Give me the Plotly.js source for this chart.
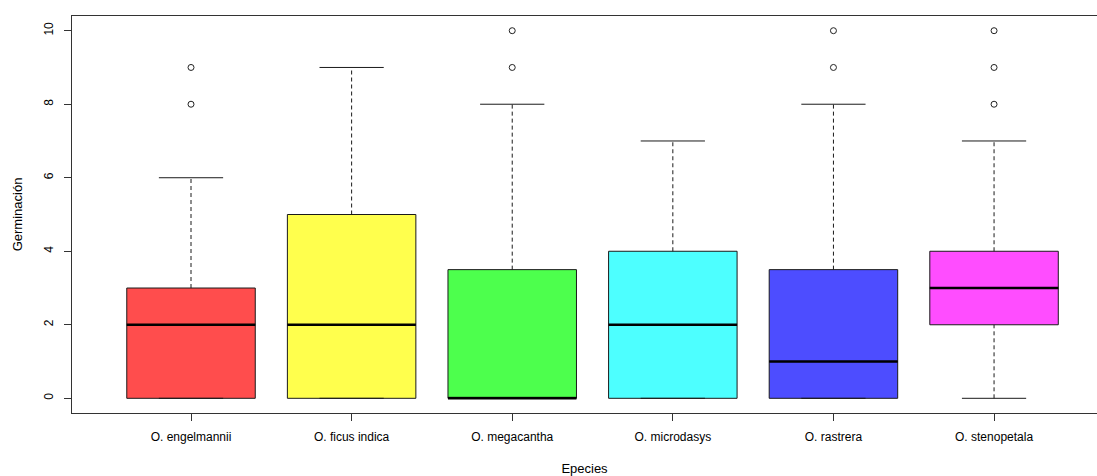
<!DOCTYPE html>
<html>
<head>
<meta charset="utf-8">
<script src="https://cdn.plot.ly/plotly-3.0.1.min.js"></script>
<style>html,body{margin:0;padding:0;background:#fff;}#chart{width:1097px;height:476px;}</style>
</head>
<body>
<div id="chart"></div>
<script>
// Data
const species = ["O. engelmannii", "O. ficus indica", "O. megacantha", "O. microdasys", "O. rastrera", "O. stenopetala"];
const positions = [1, 2, 3, 4, 5, 6];
const q1 = [0, 0, 0, 0, 0, 2];
const medians = [2, 2, 0, 2, 1, 3];
const q3 = [3, 5, 3.5, 4, 3.5, 4];
const lowerWhisker = [0, 0, 0, 0, 0, 0];
const upperWhisker = [6, 9, 8, 7, 8, 7];
const outliers = [[8, 9], [], [9, 10], [], [9, 10], [8, 9, 10]];
const fillColors = ["#FF4D4D", "#FFFF4D", "#4DFF4D", "#4DFFFF", "#4D4DFF", "#FF4DFF"];
const yTicks = [0, 2, 4, 6, 8, 10];

const BOX_HALF = 0.4, CAP_HALF = 0.2;
const font = {family: "Liberation Sans, Arial, sans-serif", size: 12, color: "#000"};

const traces = [];
// Boxes
positions.forEach((p, i) => {
  traces.push({
    type: "box", x: [p], q1: [q1[i]], median: [medians[i]], q3: [q3[i]],
    lowerfence: [q1[i]], upperfence: [q3[i]],
    width: 2 * BOX_HALF, whiskerwidth: 0,
    fillcolor: fillColors[i], line: {color: "#1a1a1a", width: 1},
    boxpoints: false, showlegend: false, hoverinfo: "skip"
  });
});
// Dashed whiskers
const wx = [], wy = [];
positions.forEach((p, i) => {
  if (upperWhisker[i] > q3[i]) { wx.push(p, p, null); wy.push(q3[i], upperWhisker[i], null); }
  if (lowerWhisker[i] < q1[i]) { wx.push(p, p, null); wy.push(lowerWhisker[i], q1[i], null); }
});
traces.push({type: "scatter", mode: "lines", x: wx, y: wy, line: {color: "#1a1a1a", width: 1, dash: "4px,3px"}, showlegend: false, hoverinfo: "skip"});
// Caps
const cx = [], cy = [];
positions.forEach((p, i) => {
  cx.push(p - CAP_HALF, p + CAP_HALF, null); cy.push(upperWhisker[i], upperWhisker[i], null);
  cx.push(p - CAP_HALF, p + CAP_HALF, null); cy.push(lowerWhisker[i], lowerWhisker[i], null);
});
traces.push({type: "scatter", mode: "lines", x: cx, y: cy, line: {color: "#1a1a1a", width: 1}, showlegend: false, hoverinfo: "skip"});
// Medians (thick)
const mx = [], my = [];
positions.forEach((p, i) => { mx.push(p - BOX_HALF, p + BOX_HALF, null); my.push(medians[i], medians[i], null); });
traces.push({type: "scatter", mode: "lines", x: mx, y: my, line: {color: "#000", width: 2.5}, showlegend: false, hoverinfo: "skip"});
// Outliers
const ox = [], oy = [];
positions.forEach((p, i) => outliers[i].forEach(v => { ox.push(p); oy.push(v); }));
traces.push({type: "scatter", mode: "markers", x: ox, y: oy, marker: {symbol: "circle-open", size: 6, color: "#222", line: {width: 1}}, showlegend: false, hoverinfo: "skip"});

const layout = {
  width: 1097, height: 476,
  margin: {l: 72, r: 0, t: 16, b: 63},
  paper_bgcolor: "#fff", plot_bgcolor: "#fff",
  font: font,
  showlegend: false,
  xaxis: {
    range: [0.259, 6.641], tickvals: positions, ticktext: species,
    showgrid: false, zeroline: false, showline: true, mirror: true, linecolor: "#333", linewidth: 1,
    ticks: "outside", ticklen: 7, tickcolor: "#333", tickfont: {size: 12}, ticklabelstandoff: 6,
    title: {text: "Epecies", font: {size: 13}, standoff: 20}
  },
  yaxis: {
    range: [-0.4, 10.4], tickvals: yTicks, ticktext: yTicks.map(String),
    showgrid: false, zeroline: false, showline: true, linecolor: "#333", linewidth: 1,
    ticks: "outside", ticklen: 7, tickcolor: "#333", tickangle: -90, tickfont: {size: 12}, ticklabelstandoff: 6,
    title: {text: "Germinación", font: {size: 13}, standoff: 16}
  }
};
Plotly.newPlot("chart", traces, layout, {staticPlot: true, displayModeBar: false});
</script>
</body>
</html>
